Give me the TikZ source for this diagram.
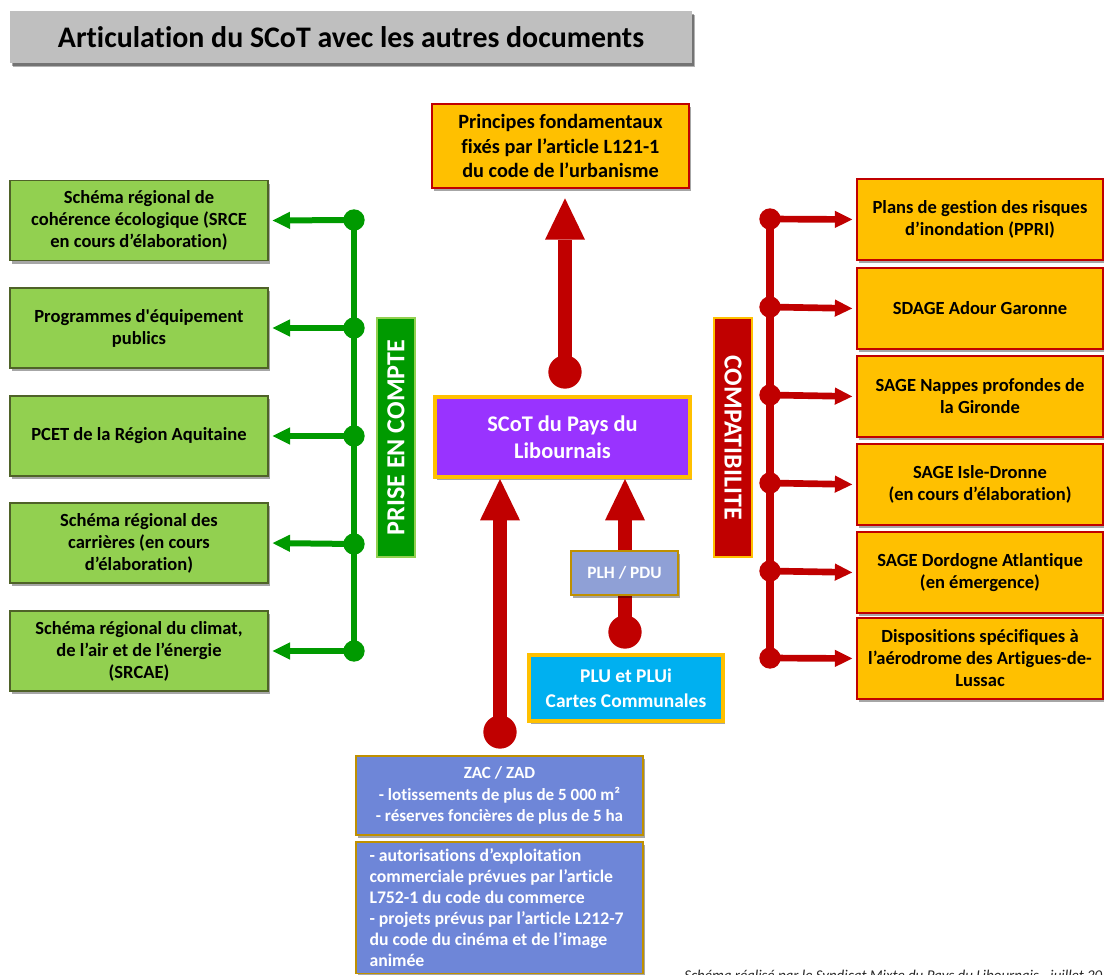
\documentclass[tikz,border=0pt]{standalone}
\usepackage{fontspec}
\setmainfont{Carlito}[Ligatures=NoCommon]
\newfontfamily\rawcarlito{Carlito}[Ligatures=NoCommon]
\usetikzlibrary{arrows.meta,shadows}
\definecolor{lgreen}{HTML}{92D050}
\definecolor{dgreen}{HTML}{009A00}
\definecolor{gborder}{HTML}{4F6228}
\definecolor{dred}{HTML}{C00000}
\definecolor{gold}{HTML}{FFC000}
\definecolor{dgold}{HTML}{BF9000}
\definecolor{purp}{HTML}{9933FF}
\definecolor{cyanb}{HTML}{00B0F0}
\definecolor{plh}{HTML}{8FA0D6}
\definecolor{zac}{HTML}{6E86D8}
\definecolor{tgray}{HTML}{BFBFBF}
\begin{document}
\begin{tikzpicture}[x=0.75pt,y=-0.75pt,
  shadowed/.style={drop shadow={shadow xshift=1.5pt,shadow yshift=-2.5pt,fill=black,opacity=0.35}},
  base/.style={draw,rectangle,inner sep=2pt,align=center,font=\bfseries\fontsize{13.9}{16.5}\selectfont,shadowed},
  gbox/.style={base,fill=lgreen,draw=gborder,line width=1pt,minimum width=193.5pt,minimum height=60pt},
  obox/.style={base,fill=gold,draw=dred,line width=1.2pt,minimum width=184.5pt,minimum height=60.75pt},
  vlabel/.style={draw,rectangle,line width=1.5pt,minimum width=179.25pt,minimum height=28.5pt,inner sep=0pt,text=white,font=\bfseries\fontsize{19.5}{20}\selectfont},
  gdot/.style={circle,fill=dgreen,inner sep=0pt,minimum size=16pt},
  rdot/.style={circle,fill=dred,inner sep=0pt,minimum size=16pt},
  bdot/.style={circle,fill=dred,inner sep=0pt,minimum size=25pt},
  garrow/.style={draw=dgreen,line width=4.5pt,-{Triangle[length=13pt,width=13pt,line width=0pt]},shorten >=3pt},
  rarrow/.style={draw=dred,line width=5pt,-{Triangle[length=13pt,width=13pt,line width=0pt]},shorten >=3pt},
  bigarrow/.style={draw=dred,line width=10.5pt,-{Triangle[length=31pt,width=30pt,line width=0pt]}},
  gline/.style={draw=dgreen,line width=5pt},
  rline/.style={draw=dred,line width=6pt}
]
\clip (0,0) rectangle (1104,975);
\fill[white] (0,0) rectangle (1104,975);

% title
\node[base,draw=none,fill=tgray,minimum width=511.5pt,minimum height=39pt,
  font=\bfseries\fontsize{22.4}{26}\selectfont,
  drop shadow={shadow xshift=2pt,shadow yshift=-3pt,fill=black,opacity=0.3}] (title) at (351,37)
  {Articulation du SCoT avec les autres documents};

% left boxes
\node[gbox] (g1) at (139,220.5) {Schéma régional de\\cohérence écologique (SRCE\\en cours d’élaboration)};
\node[gbox] (g2) at (139,328) {Programmes d{\rawcarlito'}équipement\\publics};
\node[gbox] (g3) at (139,436) {PCET de la Région Aquitaine};
\node[gbox] (g4) at (139,543) {Schéma régional des\\carrières (en cours\\d’élaboration)};
\node[gbox] (g5) at (139,651) {Schéma régional du climat,\\de l’air et de l’énergie\\(SRCAE)};

% green connectors
\node[gdot] (gd1) at (354,220) {};
\node[gdot] (gd2) at (354,328) {};
\node[gdot] (gd3) at (354,436) {};
\node[gdot] (gd4) at (354,544) {};
\node[gdot] (gd5) at (354,651) {};
\draw[gline] (gd1.center) -- (gd5.center);
\foreach \i in {1,...,5}{\draw[garrow] (gd\i.center) -- (g\i.east);}

\node[vlabel,fill=dgreen,draw=lgreen,rotate=90] (prise) at (396,437.5) {PRISE EN COMPTE};

% right boxes
\node[obox] (o1) at (980,219.5) {Plans de gestion des risques\\d’inondation (PPRI)};
\node[obox] (o2) at (980,308.5) {SDAGE Adour Garonne};
\node[obox] (o3) at (980,396.5) {SAGE Nappes profondes de\\la Gironde};
\node[obox] (o4) at (980,484.5) {SAGE Isle-Dronne\\(en cours d’élaboration)};
\node[obox] (o5) at (980,572.5) {SAGE Dordogne Atlantique\\(en émergence)};
\node[obox] (o6) at (980,658.5) {Dispositions spécifiques à\\l’aérodrome des Artigues-de-\\Lussac};

\node[rdot] (rd1) at (770,219) {};
\node[rdot] (rd2) at (770,307) {};
\node[rdot] (rd3) at (770,395) {};
\node[rdot] (rd4) at (770,483) {};
\node[rdot] (rd5) at (770,571) {};
\node[rdot] (rd6) at (770,658) {};
\draw[rline] (rd1.center) -- (rd6.center);
\foreach \i in {1,...,6}{\draw[rarrow] (rd\i.center) -- (o\i.west);}

\node[vlabel,fill=dred,draw=gold,rotate=-90] (compat) at (733,437.5) {COMPATIBILITE};

% top box
\node[base,fill=gold,draw=dred,line width=1.5pt,minimum width=192.75pt,minimum height=63pt,
  font=\bfseries\fontsize{15.2}{18.4}\selectfont] (top) at (560.5,146)
  {Principes fondamentaux\\fixés par l’article L121-1\\du code de l’urbanisme};

% SCoT
\node[base,fill=purp,draw=gold,line width=3pt,minimum width=191.25pt,minimum height=60pt,
  text=white,font=\bfseries\fontsize{16.8}{20}\selectfont] (scot) at (562.5,437)
  {SCoT du Pays du\\Libournais};

\node[bdot] (tdot) at (565,372) {};
\draw[bigarrow,shorten >=7pt] (tdot.center) -- (tdot.center |- top.south);

% PLU / PLH
\node[bdot] (pdot) at (625,632) {};
\draw[bigarrow] (pdot.center) -- (pdot.center |- scot.south);
\node[base,fill=plh,draw=dgold,line width=1.2pt,minimum width=80.25pt,minimum height=33pt,
  text=white,font=\bfseries\fontsize{13}{15}\selectfont] (plh) at (624.5,573) {PLH / PDU};
\node[base,fill=cyanb,draw=gold,line width=3pt,minimum width=145.5pt,minimum height=49.5pt,
  text=white,font=\bfseries\fontsize{14.6}{18.5}\selectfont] (plu) at (626,688)
  {PLU et PLUi\\Cartes Communales};

% ZAC
\node[bdot] (zdot) at (500,732) {};
\draw[bigarrow] (zdot.center) -- (zdot.center |- scot.south);
\node[base,fill=zac,draw=dgold,line width=1.2pt,minimum width=215.25pt,minimum height=59.25pt,
  text=white,font=\bfseries\fontsize{12.8}{16.3}\selectfont] (zac) at (499.5,795.5)
  {ZAC / ZAD\\- lotissements de plus de 5 000 m²\\- réserves foncières de plus de 5 ha};
\node[base,fill=zac,draw=dgold,line width=1.2pt,anchor=north,text width=195pt,
  align=flush left,inner xsep=10pt,inner ysep=5pt,
  text=white,font=\bfseries\fontsize{13.3}{15.8}\selectfont] (aut) at (499.5,841)
  {- autorisations d’exploitation\\commerciale prévues par l’article\\L752-1 du code du commerce\\- projets prévus par l’article L212-7\\du code du cinéma et de l’image\\animée};

% footer
\node[anchor=base west,inner sep=0pt,text=black!85,font=\itshape\fontsize{11.2}{13}\selectfont] (foot) at (684,980)
  {Schéma réalisé par le Syndicat Mixte du Pays du Libournais - juillet 20};
\end{tikzpicture}
\end{document}
